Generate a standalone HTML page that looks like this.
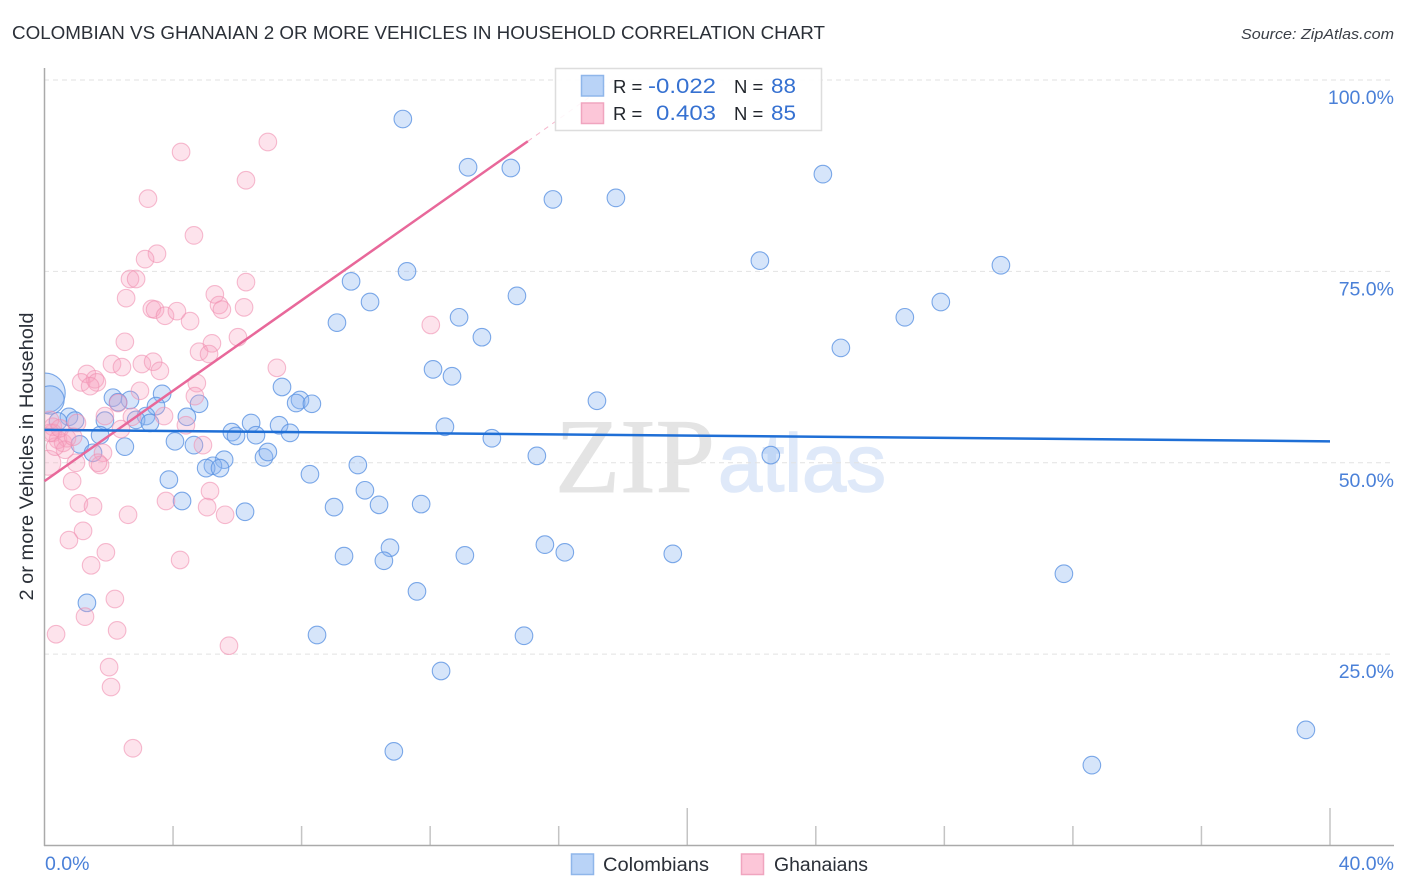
<!DOCTYPE html>
<html lang="en">
<head>
<meta charset="utf-8">
<title>Colombian vs Ghanaian 2 or More Vehicles in Household Correlation Chart</title>
<style>
  html, body { margin: 0; padding: 0; background: #fff; }
  svg { display: block; font-family: "Liberation Sans", sans-serif; }
</style>
</head>
<body>
<svg id="chart" xmlns="http://www.w3.org/2000/svg" width="1406" height="892" viewBox="0 0 1406 892">
  <defs>
    <clipPath id="plot-clip" clipPathUnits="userSpaceOnUse"><rect x="45" y="60" width="1360" height="786"/></clipPath>
  </defs>
  <rect x="0" y="0" width="1406" height="892" fill="#ffffff"/>
  <text x="12" y="39" font-size="18.5" fill="#2b3038" textLength="813" lengthAdjust="spacingAndGlyphs">COLOMBIAN VS GHANAIAN 2 OR MORE VEHICLES IN HOUSEHOLD CORRELATION CHART</text>
  <text x="1394" y="39" font-size="15" font-style="italic" fill="#3a3f47" text-anchor="end" textLength="153" lengthAdjust="spacingAndGlyphs">Source: ZipAtlas.com</text>
  <g>
    <text x="555" y="492" font-family="'Liberation Serif', serif" font-size="106" fill="#e4e4e4" stroke="#e4e4e4" stroke-width="1" textLength="160" lengthAdjust="spacingAndGlyphs">ZIP</text>
    <text x="718" y="491" font-size="82" fill="#dfe9f9" stroke="#dfe9f9" stroke-width="1.5" textLength="168" lengthAdjust="spacingAndGlyphs">atlas</text>
  </g>
  <g id="grid"></g>
  <g id="ticks"></g>
  <line x1="44.5" y1="68" x2="44.5" y2="846" stroke="#aaaaaa" stroke-width="1.5"/>
  <line x1="44" y1="845.5" x2="1394" y2="845.5" stroke="#aaaaaa" stroke-width="1.5"/>
  <g id="points" clip-path="url(#plot-clip)"></g>
  <g id="trends"></g>
  <g id="y-labels"></g>
  <g id="x-labels"></g>
  <text transform="translate(33,456.5) rotate(-90)" font-size="19" fill="#2b3038" text-anchor="middle" textLength="288" lengthAdjust="spacingAndGlyphs">2 or more Vehicles in Household</text>

  <g>
    <rect x="555.5" y="68.5" width="266" height="62" fill="#ffffff" fill-opacity="0.88" stroke="#dddddd" stroke-width="1.5"/>
    <rect x="581.5" y="75.5" width="22" height="20.5" fill="#b9d3f7" stroke="#8fb6ea" stroke-width="1.5"/>
    <rect x="581.5" y="103" width="22" height="20.5" fill="#fcc6d8" stroke="#f0a5bf" stroke-width="1.5"/>
    <text x="613" y="93" font-size="18.5" fill="#22262c">R =</text>
    <text x="648" y="93" font-size="21" fill="#3671d1" textLength="68" lengthAdjust="spacingAndGlyphs">-0.022</text>
    <text x="734" y="93" font-size="18.5" fill="#22262c">N =</text>
    <text x="771" y="93" font-size="21" fill="#3671d1" textLength="25" lengthAdjust="spacingAndGlyphs">88</text>
    <text x="613" y="120" font-size="18.5" fill="#22262c">R =</text>
    <text x="656" y="120" font-size="21" fill="#3671d1" textLength="60" lengthAdjust="spacingAndGlyphs">0.403</text>
    <text x="734" y="120" font-size="18.5" fill="#22262c">N =</text>
    <text x="771" y="120" font-size="21" fill="#3671d1" textLength="25" lengthAdjust="spacingAndGlyphs">85</text>
  </g>

  <g>
    <g>
      <rect x="571.5" y="854" width="22" height="20.5" fill="#b9d3f7" stroke="#8fb6ea" stroke-width="1.5"/>
      <text x="603" y="871" font-size="19" fill="#2b3038" textLength="106" lengthAdjust="spacingAndGlyphs">Colombians</text>
    </g>
    <g>
      <rect x="741.5" y="854" width="22" height="20.5" fill="#fcc6d8" stroke="#f0a5bf" stroke-width="1.5"/>
      <text x="774" y="871" font-size="19" fill="#2b3038" textLength="94" lengthAdjust="spacingAndGlyphs">Ghanaians</text>
    </g>
  </g>
</svg>
<script>
const yTickValues = [100, 75, 50, 25];
const yTickLabels = ["100.0%", "75.0%", "50.0%", "25.0%"];
const xTickValues = [4, 8, 12, 16, 20, 24, 28, 32, 36, 40];
const xMajorTicks = [20, 40];
const xEdgeValues = [0, 40];
const xEdgeLabels = ["0.0%", "40.0%"];

const colombianX = [0.02, 0.17, 0.76, 0.95, 0.42, 11.15, 13.18, 14.51, 15.82, 17.78, 24.22, 22.26, 29.76, 11.28, 9.54, 14.70, 10.13, 27.89, 12.90, 26.77, 9.10, 13.61, 24.78, 12.09, 12.68, 7.39, 17.19, 7.95, 7.83, 8.32, 3.66, 4.81, 3.47, 2.13, 2.66, 2.29, 3.16, 2.85, 3.28, 4.43, 1.88, 6.43, 7.30, 12.46, 5.83, 5.96, 6.58, 7.64, 1.73, 13.92, 4.06, 4.65, 1.10, 2.50, 1.51, 6.83, 6.95, 15.32, 22.60, 5.59, 5.24, 5.03, 5.46, 9.75, 8.26, 3.87, 9.97, 4.28, 11.72, 10.41, 9.01, 6.24, 15.57, 10.75, 16.19, 9.32, 13.08, 19.55, 10.56, 31.72, 11.59, 1.32, 8.48, 14.92, 12.34, 39.25, 10.87, 32.59];
const colombianY = [59.1, 58.2, 56.0, 55.5, 55.4, 94.9, 88.6, 88.5, 84.4, 84.6, 87.7, 76.4, 75.8, 75.0, 73.7, 71.8, 71.0, 71.0, 69.0, 69.0, 68.3, 66.4, 65.0, 62.2, 61.3, 59.9, 58.1, 58.2, 57.8, 57.7, 59.0, 57.7, 57.4, 58.5, 58.2, 57.9, 56.1, 55.6, 55.2, 56.0, 55.5, 55.2, 54.9, 54.7, 54.0, 53.5, 53.6, 53.9, 53.6, 53.2, 52.8, 52.3, 52.4, 52.1, 51.3, 50.7, 51.4, 50.9, 51.0, 50.4, 49.6, 49.3, 49.3, 49.7, 48.5, 47.8, 46.4, 45.0, 44.6, 44.5, 44.2, 43.6, 39.3, 38.9, 38.3, 37.8, 37.9, 38.1, 37.2, 35.5, 33.2, 31.7, 27.5, 27.4, 22.8, 15.1, 12.3, 10.5];
const colombianWeight = [5.2, 2.6];

const ghanaianX = [0.12, 6.95, 4.25, 6.27, 3.22, 4.65, 3.50, 3.13, 6.27, 2.66, 2.85, 2.54, 5.30, 5.43, 5.52, 6.21, 3.34, 3.44, 3.75, 4.12, 4.53, 12.02, 6.02, 2.50, 5.21, 4.81, 5.12, 2.10, 3.03, 3.38, 2.41, 3.59, 7.23, 1.32, 1.57, 1.14, 1.63, 1.42, 4.74, 2.97, 4.68, 2.29, 1.88, 2.72, 3.72, 2.38, 4.40, 4.93, 1.82, 0.98, 1.73, 1.66, 0.86, 1.07, 1.51, 2.60, 1.20, 0.76, 3.78, 5.15, 5.06, 5.62, 1.91, 4.22, 1.45, 2.19, 1.26, 2.26, 0.36, 5.74, 2.01, 2.07, 2.75, 0.26, 0.26, 0.17, 0.42, 0.58, 0.70, 0.64, 0.33, 0.17, 1.01, 0.48, 0.89];
const ghanaianY = [50.0, 91.9, 90.6, 86.9, 84.5, 79.7, 77.3, 76.6, 73.6, 74.0, 74.0, 71.5, 72.0, 70.6, 70.0, 70.3, 70.1, 70.0, 69.2, 69.8, 68.5, 68.0, 66.4, 65.8, 65.6, 64.5, 64.2, 62.9, 62.9, 63.2, 62.5, 62.0, 62.4, 61.6, 60.9, 60.5, 60.5, 60.0, 60.4, 59.4, 58.7, 57.8, 56.1, 56.0, 56.1, 54.4, 54.9, 52.3, 51.3, 50.0, 49.7, 50.0, 47.6, 44.7, 44.3, 43.2, 41.1, 39.9, 45.0, 46.3, 44.2, 43.2, 38.3, 37.3, 36.6, 32.2, 29.9, 28.1, 27.6, 26.1, 23.3, 20.7, 12.7, 54.7, 53.9, 55.6, 53.0, 52.6, 53.2, 51.7, 52.1, 53.9, 55.2, 54.5, 53.4];
const ghanaianWeight = [2.0];

const colombianTrendX = [0, 40];
const colombianTrendY = [54.3, 52.8];
const ghanaianTrendX = [0, 15.04];
const ghanaianTrendY = [47.6, 92.0];
const ghanaianExtensionX = [15.04, 17.7];
const ghanaianExtensionY = [92.0, 100];

const NS = "http://www.w3.org/2000/svg";
const xScale = v => 44.5 + v * (1330 - 44.5) / 40;
const yScale = v => 845.5 - v * (845.5 - 80) / 100;
const make = (parent, tag) => {
  const el = document.createElementNS(NS, tag);
  document.getElementById(parent).appendChild(el);
  return el;
};
const setAll = (el, attrs) => {
  Object.keys(attrs).forEach(k => el.setAttribute(k, attrs[k]));
};

yTickValues.forEach((v, i) => {
  const grid = make("grid", "line");
  
  
  setAll(grid, { x1: 44, x2: 1394, y1: yScale(v), y2: yScale(v), stroke: "#e2e2e2", "stroke-width": 1, "stroke-dasharray": "5 4" });
  const label = make("y-labels", "text");
  
  
  setAll(label, { x: 1394, y: yScale(v) + 24, "font-size": 19.5, fill: "#4a80d8", "text-anchor": "end" });
  label.textContent = yTickLabels[i];
});

xTickValues.forEach(v => {
  const tick = make("ticks", "line");
  
  
  const top = xMajorTicks.includes(v) ? 808 : 826;
  setAll(tick, { x1: xScale(v), x2: xScale(v), y1: top, y2: 845.5, stroke: "#c4c4c4", "stroke-width": 1.5 });
});

xEdgeValues.forEach((v, i) => {
  const label = make("x-labels", "text");
  
  
  setAll(label, { x: i === 0 ? 45 : 1394, y: 870, "font-size": 19.5, fill: "#4a80d8", "text-anchor": i === 0 ? "start" : "end" });
  label.textContent = xEdgeLabels[i];
});

colombianX.forEach((v, i) => {
  const dot = make("points", "circle");
  
  
  setAll(dot, { cx: xScale(v), cy: yScale(colombianY[i]), r: 8.8 * Math.sqrt(colombianWeight[i] || 1), fill: "#8db8f0", "fill-opacity": 0.36, stroke: "#5d93e2", "stroke-opacity": 0.8, "stroke-width": 1.1 });
});

ghanaianX.forEach((v, i) => {
  const dot = make("points", "circle");
  
  
  setAll(dot, { cx: xScale(v), cy: yScale(ghanaianY[i]), r: 8.8 * Math.sqrt(ghanaianWeight[i] || 1), fill: "#f9a3bf", "fill-opacity": 0.3, stroke: "#f08fb0", "stroke-opacity": 0.6, "stroke-width": 1.1 });
});

const extension = make("trends", "line");


setAll(extension, { x1: xScale(ghanaianExtensionX[0]), y1: yScale(ghanaianExtensionY[0]), x2: xScale(ghanaianExtensionX[1]), y2: yScale(ghanaianExtensionY[1]), stroke: "#ee7aa2", "stroke-width": 1, "stroke-dasharray": "5 5", "stroke-opacity": 0.55 });

const pinkTrend = make("trends", "line");


setAll(pinkTrend, { x1: xScale(ghanaianTrendX[0]), y1: yScale(ghanaianTrendY[0]), x2: xScale(ghanaianTrendX[1]), y2: yScale(ghanaianTrendY[1]), stroke: "#e8689a", "stroke-width": 2.5 });

const blueTrend = make("trends", "line");


setAll(blueTrend, { x1: xScale(colombianTrendX[0]), y1: yScale(colombianTrendY[0]), x2: xScale(colombianTrendX[1]), y2: yScale(colombianTrendY[1]), stroke: "#1f6fd6", "stroke-width": 2.5 });
</script>
</body>
</html>
